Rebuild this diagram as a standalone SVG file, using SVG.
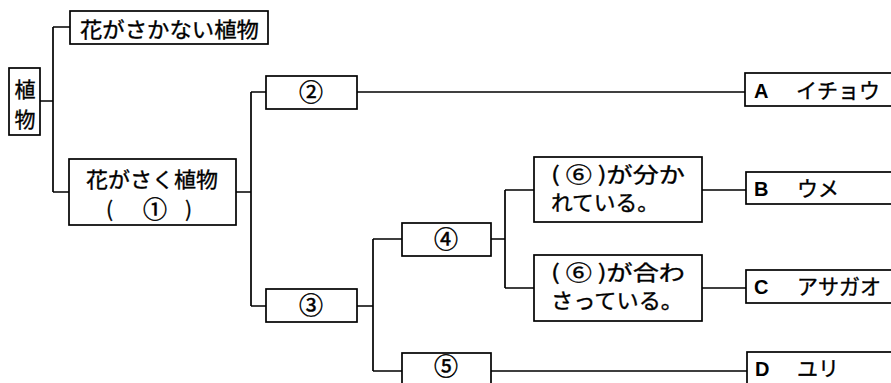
<svg xmlns="http://www.w3.org/2000/svg" width="891" height="383" viewBox="0 0 891 383">
<style>
.box{fill:#fff;stroke:#000;stroke-width:1.7}
.ln{fill:none;stroke:#000;stroke-width:1.7}
text{font-family:"Noto Sans CJK JP","Noto Sans",sans-serif;font-size:21px;fill:#000;stroke:#000;stroke-width:0.35}
.c{text-anchor:middle}
.num{font-size:24px;stroke-width:0.5}
.lat{font-family:"Liberation Sans","Noto Sans CJK JP",sans-serif;font-size:20px;font-weight:bold;stroke-width:0}
</style>
<rect width="891" height="383" fill="#fff"/>
<g id="connectors">
<path class="ln" d="M40,101 H53 M53,27 V192 M53,27 H70 M53,192 H69"/>
<path class="ln" d="M236,192 H251 M251,92 V306 M251,92 H266 M251,306 H266"/>
<path class="ln" d="M357,92 H745"/>
<path class="ln" d="M357,306 H373 M373,239 V371 M373,239 H402 M373,371 H402"/>
<path class="ln" d="M491,239 H505 M505,190 V288 M505,190 H534 M505,288 H534"/>
<path class="ln" d="M702,190 H746 M702,288 H746 M491,371 H747"/>
</g>
<g id="plant">
<rect class="box" x="9" y="68" width="31" height="67"/>
<text class="c" x="25" y="97" font-size="24">植</text>
<text class="c" x="25" y="127" font-size="24">物</text>
</g>
<g id="no-flower">
<rect class="box" x="70" y="11" width="198" height="33"/>
<text x="80" y="37" textLength="179" lengthAdjust="spacingAndGlyphs">花がさかない植物</text>
</g>
<g id="flower">
<rect class="box" x="69" y="159" width="167" height="66"/>
<text class="c" x="152" y="187" textLength="132" lengthAdjust="spacingAndGlyphs">花がさく植物</text>
<text x="106" y="217">(</text>
<text class="c num" x="155" y="218">①</text>
<text x="185" y="217">)</text>
</g>
<g id="n2">
<rect class="box" x="266" y="76" width="91" height="33"/>
<text class="c num" x="311" y="101">②</text>
</g>
<g id="n3">
<rect class="box" x="266" y="289" width="91" height="33"/>
<text class="c num" x="311" y="314">③</text>
</g>
<g id="n4">
<rect class="box" x="402" y="223" width="89" height="33"/>
<text class="c num" x="446" y="248">④</text>
</g>
<g id="n5">
<rect class="box" x="402" y="353" width="89" height="40"/>
<text class="c num" x="446" y="375" font-size="23">⑤</text>
</g>
<g id="separate">
<rect class="box" x="534" y="157" width="168" height="65"/>
<text x="551" y="182" textLength="134" lengthAdjust="spacingAndGlyphs">( ⑥ )が分か</text>
<text x="551" y="210" textLength="108" lengthAdjust="spacingAndGlyphs">れている。</text>
</g>
<g id="joined">
<rect class="box" x="534" y="255" width="168" height="66"/>
<text x="551" y="280" textLength="134" lengthAdjust="spacingAndGlyphs">( ⑥ )が合わ</text>
<text x="551" y="308" textLength="132" lengthAdjust="spacingAndGlyphs">さっている。</text>
</g>
<g id="A">
<rect class="box" x="745" y="73" width="160" height="33"/>
<text class="lat" x="754" y="98">A</text>
<text x="796" y="98">イチョウ</text>
</g>
<g id="B">
<rect class="box" x="746" y="172" width="160" height="32"/>
<text class="lat" x="754" y="196">B</text>
<text x="797" y="196">ウメ</text>
</g>
<g id="C">
<rect class="box" x="746" y="270" width="160" height="33"/>
<text class="lat" x="754" y="294">C</text>
<text x="797" y="294">アサガオ</text>
</g>
<g id="D">
<rect class="box" x="747" y="352" width="160" height="40"/>
<text class="lat" x="755" y="376">D</text>
<text x="797" y="376">ユリ</text>
</g>
</svg>
